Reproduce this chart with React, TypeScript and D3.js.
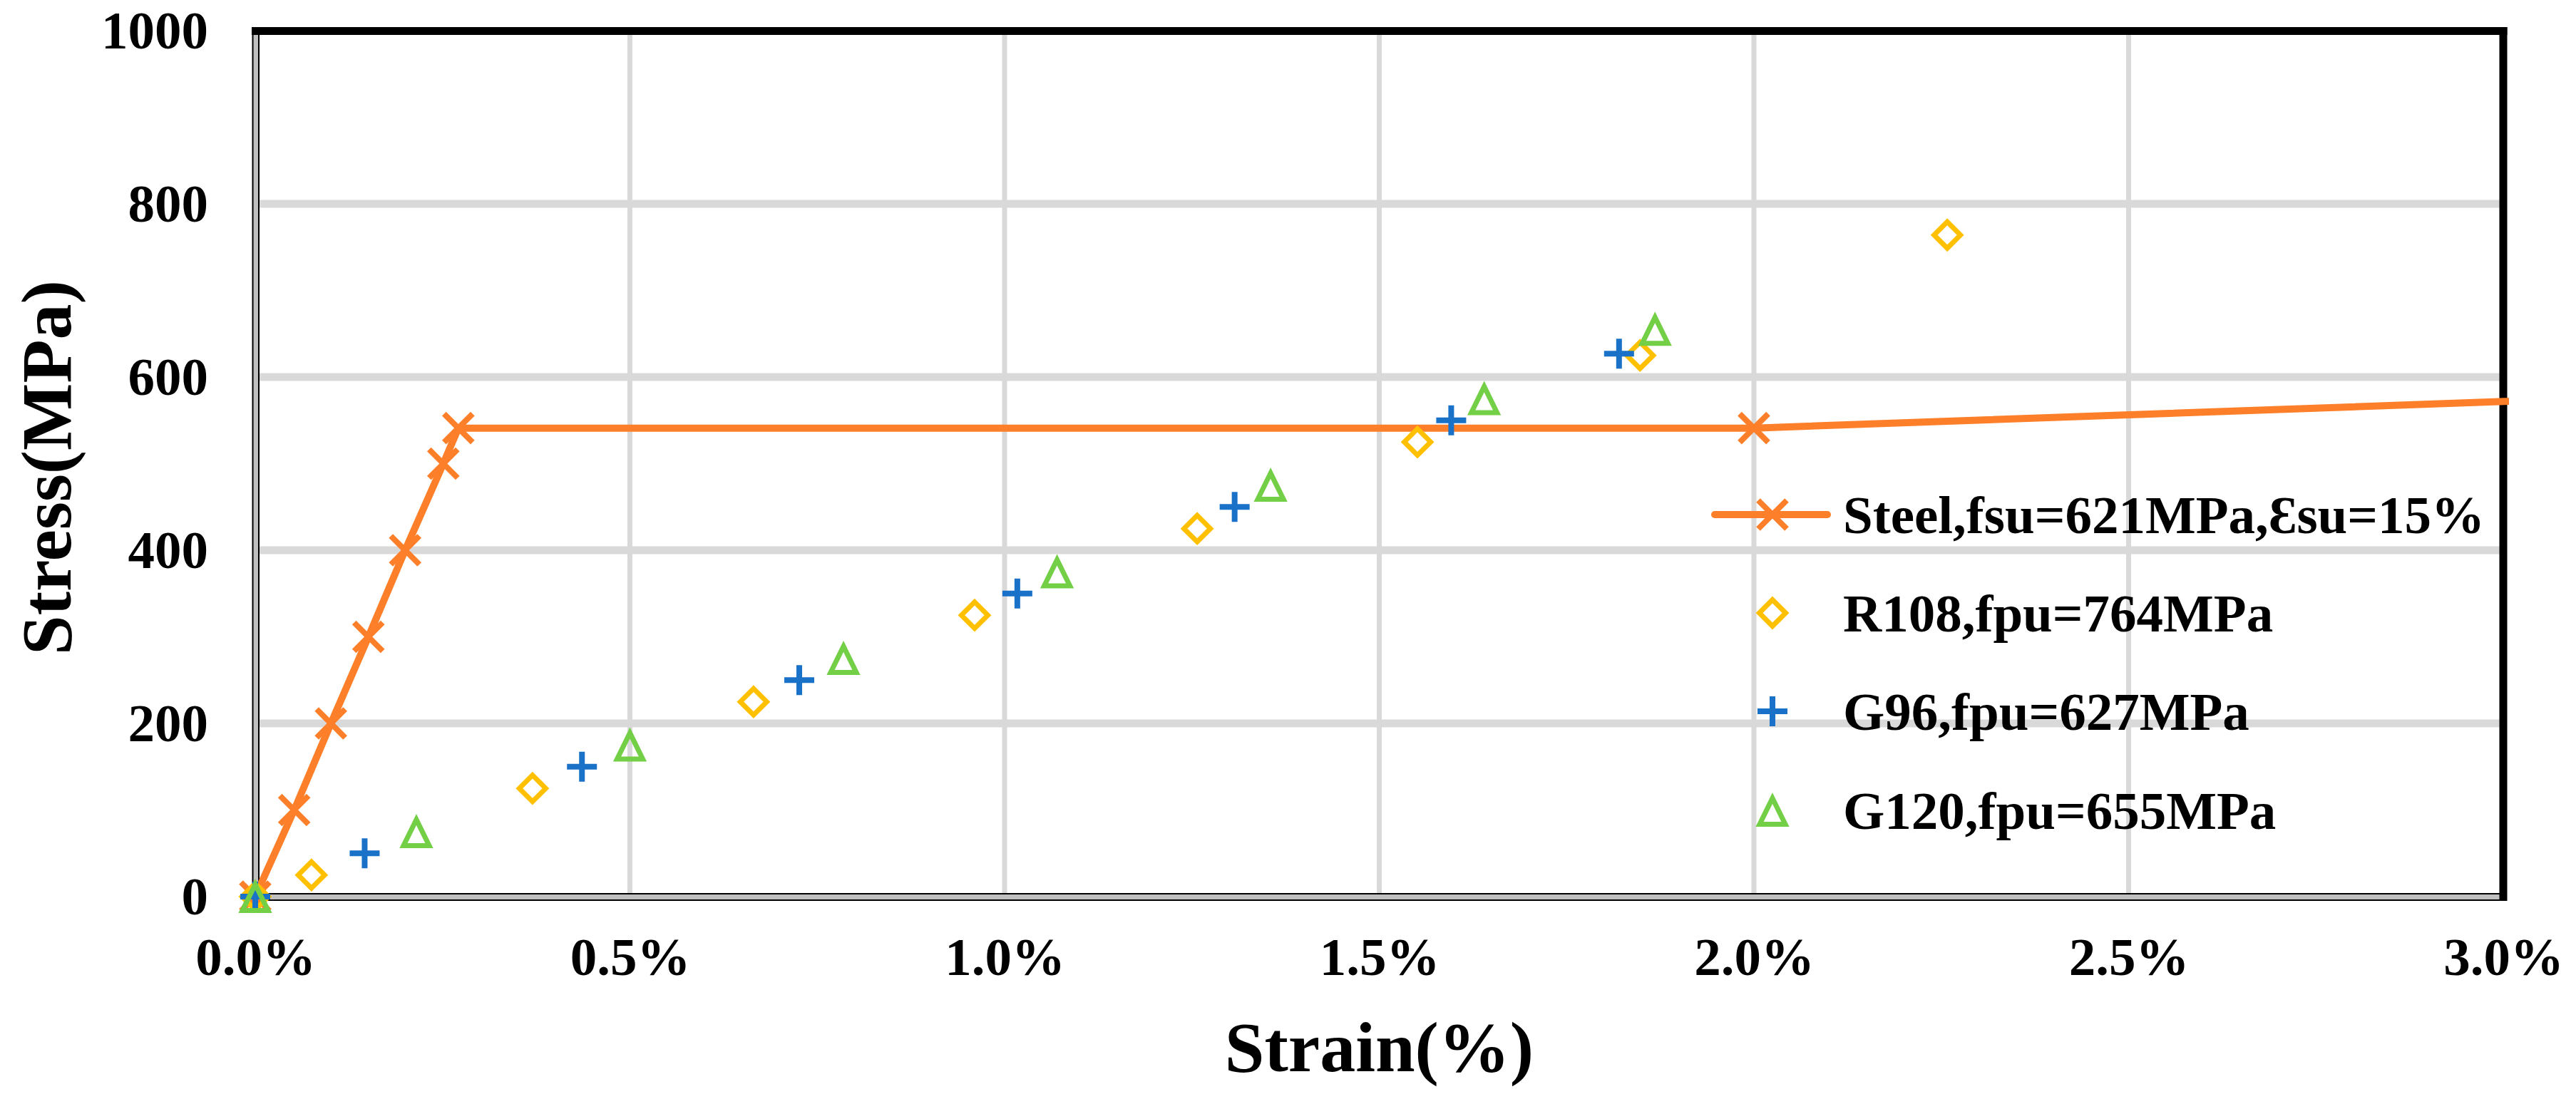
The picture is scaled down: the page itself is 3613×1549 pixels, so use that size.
import React, { useRef, useEffect } from "react";
import * as d3 from "d3";

// stress-strain data, strain in %, stress in MPa
const steelData: [number, number][] = [
  [0, 0],
  [0.052, 100],
  [0.101, 200],
  [0.151, 300],
  [0.2, 400],
  [0.251, 500],
  [0.271, 541],
  [2.0, 541],
  [4.6, 621],
];
const r108Data: [number, number][] = [
  [0, 0],
  [0.075, 25],
  [0.37, 125],
  [0.665, 225],
  [0.96, 325],
  [1.257, 425],
  [1.551, 525],
  [1.848, 625],
  [2.258, 764],
];
const g96Data: [number, number][] = [
  [0, 0],
  [0.146, 50],
  [0.436, 150],
  [0.726, 250],
  [1.017, 350],
  [1.307, 450],
  [1.596, 550],
  [1.82, 627],
];
const g120Data: [number, number][] = [
  [0, 0],
  [0.215, 75],
  [0.5, 175],
  [0.785, 275],
  [1.07, 375],
  [1.355, 475],
  [1.64, 575],
  [1.868, 655],
];

const seriesNames = [
  "Steel,fsu=621MPa,\u0190su=15%",
  "R108,fpu=764MPa",
  "G96,fpu=627MPa",
  "G120,fpu=655MPa",
];
const seriesColors = ["#fe7f2a", "#ffc000", "#1a72c8", "#72cf46"];
const seriesMarkers = ["x", "diamond", "plus", "triangle"];

const xTicks = [0, 0.5, 1.0, 1.5, 2.0, 2.5, 3.0];
const yTicks = [0, 200, 400, 600, 800, 1000];

const W = 3613;
const H = 1549;
const FONT = "'Liberation Serif', 'Times New Roman', serif";

// marker outlines, drawn around (0,0)
const markerPath: Record<string, string> = {
  x: "M-20,-20L20,20M-20,20L20,-20",
  diamond: "M0,-18.5L18.5,0L0,18.5L-18.5,0Z",
  plus: "M-21,0H21M0,-21V21",
  triangle: "M0,-17L18,19.5L-18,19.5Z",
};
const markerStroke: Record<string, number> = {
  x: 8,
  diamond: 7,
  plus: 8,
  triangle: 7,
};

export default function App() {
  const ref = useRef<SVGSVGElement>(null);

  useEffect(() => {
    const svg = d3.select(ref.current);
    svg.selectAll("*").remove();

    const left = 358,
      right = 3511,
      top = 43,
      bottom = 1258;

    const x = d3.scaleLinear().domain([0, 3]).range([left, right]);
    const y = d3.scaleLinear().domain([0, 1000]).range([bottom, top]);

    svg.append("rect").attr("width", W).attr("height", H).attr("fill", "#fff");

    // gridlines
    const grid = svg.append("g");
    grid
      .selectAll("line.h")
      .data(yTicks.slice(1, -1))
      .join("line")
      .attr("x1", left)
      .attr("x2", right)
      .attr("y1", (d) => y(d))
      .attr("y2", (d) => y(d))
      .attr("stroke", "#d9d9d9")
      .attr("stroke-width", 11);
    grid
      .selectAll("line.v")
      .data(xTicks.slice(1, -1))
      .join("line")
      .attr("x1", (d) => x(d))
      .attr("x2", (d) => x(d))
      .attr("y1", top)
      .attr("y2", bottom)
      .attr("stroke", "#d9d9d9")
      .attr("stroke-width", 7);

    // plot frame: grey bands left/bottom, heavy black top/right
    const frame = svg.append("g");
    frame
      .append("rect")
      .attr("x", left - 3.5)
      .attr("y", bottom - 4)
      .attr("width", right + 4 - (left - 3.5))
      .attr("height", 9)
      .attr("fill", "#bfbfbf")
      .attr("stroke", "#000")
      .attr("stroke-width", 2);
    frame
      .append("rect")
      .attr("x", left - 3.5)
      .attr("y", top)
      .attr("width", 8.5)
      .attr("height", bottom + 5 - top)
      .attr("fill", "#bfbfbf")
      .attr("stroke", "#000")
      .attr("stroke-width", 2);
    frame
      .append("line")
      .attr("x1", left - 5)
      .attr("x2", right + 5.5)
      .attr("y1", top + 0.5)
      .attr("y2", top + 0.5)
      .attr("stroke", "#000")
      .attr("stroke-width", 11);
    frame
      .append("line")
      .attr("x1", right)
      .attr("x2", right)
      .attr("y1", top - 5)
      .attr("y2", bottom + 6)
      .attr("stroke", "#000")
      .attr("stroke-width", 11);

    // axes
    const yAxis = svg
      .append("g")
      .attr("transform", `translate(${left},0)`)
      .call(
        d3
          .axisLeft(y)
          .tickValues(yTicks)
          .tickSize(0)
          .tickPadding(66)
          .tickFormat((d) => String(d))
      );
    const xAxis = svg
      .append("g")
      .attr("transform", `translate(0,${bottom})`)
      .call(
        d3
          .axisBottom(x)
          .tickValues(xTicks)
          .tickSize(0)
          .tickPadding(57)
          .tickFormat((d) => `${(+d).toFixed(1)}%`)
      );
    [yAxis, xAxis].forEach((a) => {
      a.select(".domain").remove();
      a.selectAll("text")
        .attr("fill", "#000")
        .style("font-family", FONT)
        .style("font-weight", "bold")
        .style("font-size", "75px");
    });

    // axis titles
    svg
      .append("text")
      .attr("x", (left + right) / 2)
      .attr("y", 1503)
      .attr("text-anchor", "middle")
      .style("font-family", FONT)
      .style("font-weight", "bold")
      .style("font-size", "100px")
      .text("Strain(%)");
    svg
      .append("text")
      .attr("transform", "translate(99,656) rotate(-90)")
      .attr("text-anchor", "middle")
      .style("font-family", FONT)
      .style("font-weight", "bold")
      .style("font-size", "100px")
      .text("Stress(MPa)");

    // data
    svg
      .append("clipPath")
      .attr("id", "plotclip")
      .append("rect")
      .attr("x", 0)
      .attr("y", 0)
      .attr("width", right + 8)
      .attr("height", H);
    const dataArea = svg.append("g").attr("clip-path", "url(#plotclip)");

    const allSeries = [steelData, r108Data, g96Data, g120Data];

    dataArea
      .append("path")
      .datum(steelData)
      .attr("fill", "none")
      .attr("stroke", seriesColors[0])
      .attr("stroke-width", 10)
      .attr("stroke-linejoin", "round")
      .attr(
        "d",
        d3
          .line<[number, number]>()
          .x((d) => x(d[0]))
          .y((d) => y(d[1]))
      );

    allSeries.forEach((data, i) => {
      const m = seriesMarkers[i];
      dataArea
        .append("g")
        .selectAll("path")
        .data(data)
        .join("path")
        .attr("transform", (d) => `translate(${x(d[0])},${y(d[1])})`)
        .attr("d", markerPath[m])
        .attr("fill", "none")
        .attr("stroke", seriesColors[i])
        .attr("stroke-width", markerStroke[m]);
    });

    // legend
    const legend = svg.append("g");
    const legendBase = [748, 886, 1024, 1163];
    seriesNames.forEach((name, i) => {
      const g = legend.append("g").attr("transform", `translate(0,${legendBase[i]})`);
      const m = seriesMarkers[i];
      if (i === 0) {
        g.append("line")
          .attr("x1", 2405)
          .attr("x2", 2563)
          .attr("y1", -26)
          .attr("y2", -26)
          .attr("stroke", seriesColors[i])
          .attr("stroke-width", 10)
          .attr("stroke-linecap", "round");
      }
      g.append("path")
        .attr("transform", `translate(2486,-26)`)
        .attr("d", markerPath[m])
        .attr("fill", "none")
        .attr("stroke", seriesColors[i])
        .attr("stroke-width", markerStroke[m]);
      g.append("text")
        .attr("x", 2585)
        .attr("y", 0)
        .style("font-family", FONT)
        .style("font-weight", "bold")
        .style("font-size", "75px")
        .text(name);
    });
  }, []);

  return (
    <svg
      ref={ref}
      width={W}
      height={H}
      style={{ position: "absolute", left: 0, top: 0, display: "block" }}
    />
  );
}
